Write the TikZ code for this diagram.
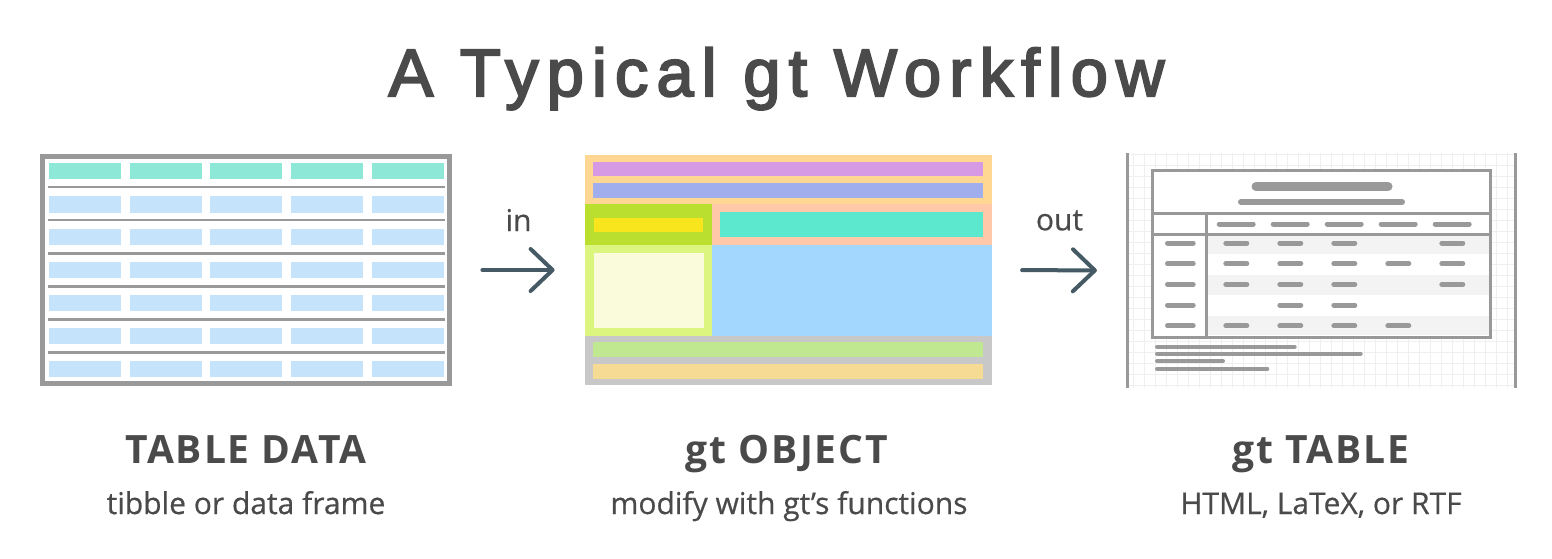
\documentclass[tikz,border=0pt]{standalone}
\usepackage{fontspec}
\setmainfont{Open Sans}[FakeBold=0.5]
\newfontfamily\titlefont{Liberation Sans}[LetterSpace=12,FakeBold=3]
\newfontfamily\headfont{Open Sans}[LetterSpace=5]
\usepackage{xcolor}
\usepackage{tikz}
\usetikzlibrary{positioning,fit,arrows.meta}

\definecolor{ink}{HTML}{4A4A4A}
\definecolor{slate}{HTML}{455A64}
\definecolor{rulegray}{HTML}{999999}
\definecolor{gridgray}{HTML}{EFEFEF}
\definecolor{stripegray}{HTML}{F3F3F3}
\definecolor{headteal}{HTML}{8EE8D8}
\definecolor{bodyblue}{HTML}{C5E4FC}
\definecolor{c-head}{HTML}{FFD792}
\definecolor{c-title}{HTML}{D59AE3}
\definecolor{c-sub}{HTML}{A0AEEE}
\definecolor{c-stubhead}{HTML}{BADF2E}
\definecolor{c-yellow}{HTML}{F8E51E}
\definecolor{c-peach}{HTML}{FFC8A8}
\definecolor{c-teal}{HTML}{5CE8CE}
\definecolor{c-stub}{HTML}{DCF57E}
\definecolor{c-cream}{HTML}{F9FBDA}
\definecolor{c-body}{HTML}{A4D7FD}
\definecolor{c-foot}{HTML}{C8C8C8}
\definecolor{c-note}{HTML}{C0E890}
\definecolor{c-src}{HTML}{F5DB94}

\tikzset{
  panel/.style={inner sep=0pt},
  flow/.style={slate, line width=2pt, line cap=round,
    -{Straight Barb[length=11pt,width=21pt,round]},
    shorten <=15pt, shorten >=15pt},
  bar/.style={rulegray, line width=2.5pt, line cap=round},
  head/.style={anchor=base, ink, font=\headfont\bfseries\fontsize{19.5}{22}\selectfont},
  sub/.style={anchor=base, ink, font=\fontsize{15}{18}\selectfont},
}

\begin{document}
\begin{tikzpicture}[x=0.5pt,y=-0.5pt]
    \fill[white] (0,0) rectangle (1552,558);

    % Title
    \node[anchor=base, ink, font=\titlefont\fontsize{33.5}{36}\selectfont] (title) at (776.5,96) {A Typical gt Workflow};

    % Table data
    \node[panel, fit={(40,154) (452,386)}] (data) {};
    \foreach \c in {0,...,4}{
        \fill[headteal] (49+80.67*\c,162.7) rectangle ++(72,16.6);
        \foreach \r in {0,...,5}
            \fill[bodyblue] (49+80.67*\c,196+32.9*\r) rectangle ++(72,16.5);
    }
    \foreach \r in {0,...,5}
        \draw[rulegray, line width=1.35pt] (47.7,187+33.1*\r) -- (445,187+33.1*\r);
    \draw[rulegray, line width=2.5pt] (42.5,156.5) rectangle (449.5,383.5);

    % gt object
    \node[panel, fit={(585,155) (991.7,385)}] (obj) {};
    \fill[c-head] (585,155) rectangle (991.7,204.3);
    \fill[c-title] (593.3,161.7) rectangle (983.3,176);
    \fill[c-sub] (593.3,183) rectangle (983.3,197.7);
    \fill[c-stubhead] (585,204.3) rectangle (712,245.3);
    \fill[c-yellow] (594,217.7) rectangle (703,231.7);
    \fill[c-peach] (712,204.3) rectangle (991.7,245.3);
    \fill[c-teal] (720.3,212.3) rectangle (983.3,237);
    \fill[c-stub] (585,245.3) rectangle (712,335.7);
    \fill[c-cream] (593.7,253.3) rectangle (703.7,327.7);
    \fill[c-body] (712,245.3) rectangle (991.7,335.7);
    \fill[c-foot] (585,335.7) rectangle (991.7,385);
    \fill[c-note] (593.3,342.3) rectangle (983.3,357);
    \fill[c-src] (593.3,363.7) rectangle (983.3,378.7);

    % gt table
    \node[panel, fit={(1127.3,153.3) (1515.7,387.7)}] (gtab) {};
    \draw[gridgray, line width=0.5pt, step=5.5pt] (1127.3,153.3) grid (1515.7,387.7);
    \draw[rulegray, line width=1.35pt] (1127.3,153.3) -- (1127.3,387.7)
        (1515.7,153.3) -- (1515.7,387.7);
    \fill[white] (1152.3,170) rectangle (1490.3,337.7);
    \foreach \k in {0,1,2}
        \fill[stripegray] (1206,234.3+40.7*\k) rectangle ++(284.3,19.7);
    \draw[rulegray, line width=1.5pt] (1152.3,170) rectangle (1490.3,337.7);
    \draw[rulegray, line width=1.5pt] (1152.3,213.3) -- (1490.3,213.3)
        (1152.3,234.3) -- (1490.3,234.3) (1206,213.3) -- (1206,337.7);
    \draw[bar, line width=4.5pt] (1256,186.5) -- (1388,186.5);
    \draw[bar, line width=3pt] (1241,202) -- (1402,202);
    \foreach \c in {0,...,4}
        \draw[bar] (1219.2+54*\c,224) -- (1253.2+54*\c,224);
    \foreach \r in {0,...,4}
        \draw[bar] (1167.5,243+20.7*\r) -- (1193.2,243+20.7*\r);
    \foreach \r/\cols in {0/{0,1,2,4},1/{0,1,2,3,4},2/{0,1,2,4},3/{1,2},4/{0,1,2,3}}
        \foreach \c in \cols
            \draw[bar] (1225.8+54*\c,243+20.7*\r) -- (1246.8+54*\c,243+20.7*\r);
    \foreach \y/\x in {346.7/1294.7, 353.7/1360.7, 361/1223, 368.7/1267.3}
        \draw[bar, line width=2pt] (1157,\y) -- (\x,\y);

    % Arrows
    \draw[flow] (data.east) -- (obj.west)
        node[midway, anchor=base, yshift=19.5pt, ink, font=\fontsize{15}{18}\selectfont] (inlbl) {in};
    \draw[flow] (obj.east) -- (gtab.west)
        node[midway, anchor=base, yshift=20pt, ink, font=\fontsize{15}{18}\selectfont] (outlbl) {out};

    % Labels
    \node[head] (datalbl) at (246,463) {TABLE DATA};
    \node[sub] (datasub) at (246,514) {tibble or data frame};
    \node[head] (objlbl) at (787,463) {gt OBJECT};
    \node[sub] (objsub) at (789,514) {modify with gt’s functions};
    \node[head] (gtablbl) at (1321,463) {gt TABLE};
    \node[sub] (gtabsub) at (1321,514) {HTML, LaTeX, or RTF};
\end{tikzpicture}
\end{document}
